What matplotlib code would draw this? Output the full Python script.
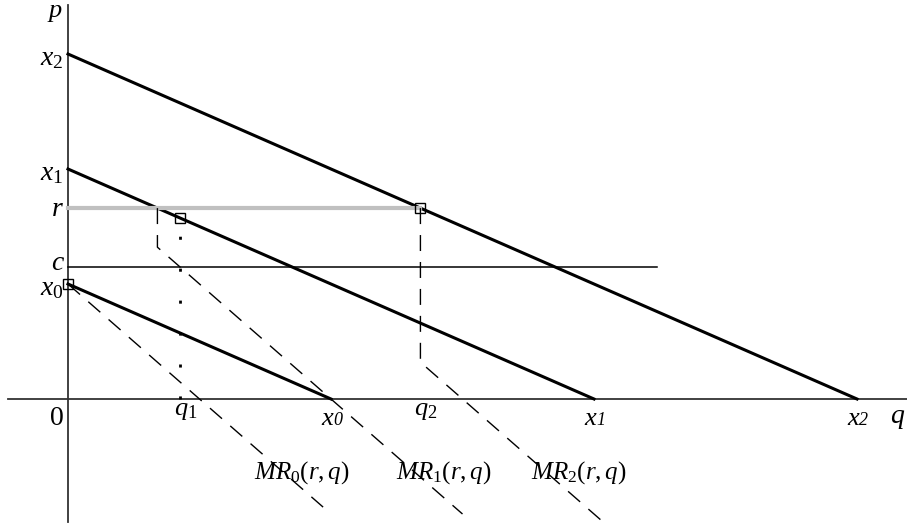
import matplotlib
matplotlib.use("Agg")
import matplotlib.pyplot as plt
import numpy as np

plt.rcParams['font.family'] = ['Liberation Serif', 'DejaVu Serif']
plt.rcParams['mathtext.fontset'] = 'custom'
plt.rcParams['mathtext.rm'] = 'Liberation Serif'
plt.rcParams['mathtext.it'] = 'Liberation Serif:italic'

# demand intercepts x0, x1, x2  (p = x_i - q)
intercepts = [1.0, 2.0, 3.0]
r = 1.66          # price cap
c = 1.15          # marginal cost
c_end = 2.24      # end of the c line
mr_end = [0.97, 1.5, 2.04]   # where the dashed MR curves stop
q_axis = (-0.23, 3.19)
p_axis = (-1.07, 3.43)
left_labels = ['$x_{\\mathit{0}}$', '$x_{\\mathit{1}}$', '$x_{\\mathit{2}}$']
bottom_digits = ['0', '1', '2']
mr_labels = ['$MR_{\\mathit{0}}(r,q)$', '$MR_{\\mathit{1}}(r,q)$', '$MR_{\\mathit{2}}(r,q)$']
mr_label_q = [0.89, 1.43, 1.94]
mr_label_p = -0.64

x0, x1, x2 = intercepts
q1 = (x1 - c) / 2.0     # MR1 = c
q2 = x2 - r             # demand 2 hits the cap
q_cap1 = x1 - r         # demand 1 hits the cap

fig = plt.figure(figsize=(9.07, 5.29), dpi=100)
ax = fig.add_axes([0, 0, 1, 1])
ax.set_xlim(-68 / 263, (907 - 68) / 263)
ax.set_ylim(-130 / 115, 399 / 115)
ax.axis('off')

# axes
ax.plot(q_axis, [0, 0], color='#333333', lw=1.3)
ax.plot([0, 0], p_axis, color='#333333', lw=1.3)

# demand lines
for x in intercepts:
    ax.plot([0, x], [x, 0], color='black', lw=2.2)

# cost line and price cap
ax.plot([0, c_end], [c, c], color='black', lw=1.1)
ax.plot([0, q2], [r, r], color='#c0c0c0', lw=3)

dash = dict(color='black', lw=1.0, dashes=(11.5, 7.9))
# MR0: no binding cap
ax.plot([0, mr_end[0]], [x0, x0 - 2 * mr_end[0]], **dash)
# MR1: vertical drop at cap quantity, then 2-2q
ax.plot([q_cap1, q_cap1, mr_end[1]], [r, x1 - 2 * q_cap1, x1 - 2 * mr_end[1]], **dash)
# MR2
ax.plot([q2, q2, mr_end[2]], [r, x2 - 2 * q2, x2 - 2 * mr_end[2]], **dash)

# dotted guide at q1
ax.plot([q1, q1], [0, 1.42], color='black', lw=2, dashes=(1.1, 10.4))

# square markers
sq = dict(marker='s', ms=7, mfc='none', mec='black', mew=1, ls='none')
ax.plot([0, q1, q2], [x0, x1 - q1, r], **sq)

fs = 20
for x, lab in zip(intercepts, left_labels):
    ax.annotate(lab, (0, x), xytext=(-3, -3), textcoords='offset points',
                ha='right', va='center', fontsize=fs)
ax.annotate('$r$', (0, r), xytext=(-3, -1), textcoords='offset points',
            ha='right', va='center', fontsize=fs)
ax.annotate('$c$', (0, c), xytext=(-2, 2), textcoords='offset points',
            ha='right', va='center', fontsize=fs)
ax.annotate('$p$', (0, p_axis[1]), xytext=(-4, -6), textcoords='offset points',
            ha='right', va='center', fontsize=19)
ax.annotate('0', (0, 0), xytext=(-8, -14), textcoords='offset points',
            ha='center', va='center', fontsize=fs)
ax.annotate('$q$', (q_axis[1], 0), xytext=(-7, -14), textcoords='offset points',
            ha='center', va='center', fontsize=fs)

# bottom x_i labels: italic x followed by small italic digit on the baseline
for x, d in zip(intercepts, bottom_digits):
    ax.annotate('x', (x, 0), xytext=(1.5, -19), textcoords='offset points',
                ha='right', va='baseline', fontsize=19, style='italic')
    ax.annotate(d, (x, 0), xytext=(1.5, -19), textcoords='offset points',
                ha='left', va='baseline', fontsize=13, style='italic')

for q, lab in zip([q1, q2], ['$q_{\\mathit{1}}$', '$q_{\\mathit{2}}$']):
    ax.annotate(lab, (q, 0), xytext=(4, -9), textcoords='offset points',
                ha='center', va='center', fontsize=19)

for q, lab in zip(mr_label_q, mr_labels):
    ax.annotate(lab, (q, mr_label_p), ha='center', va='center', fontsize=18)

fig.savefig('out.png', dpi=100)
